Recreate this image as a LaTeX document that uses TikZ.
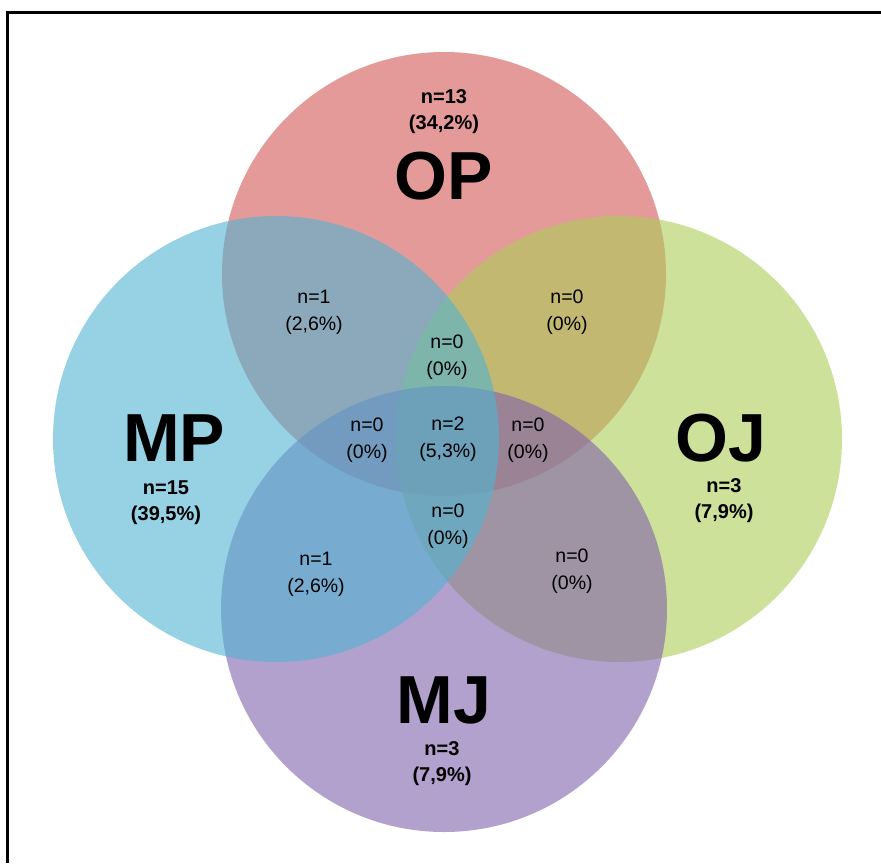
\documentclass[tikz,border=0pt]{standalone}
\usepackage{fontspec}
\setmainfont{Liberation Sans}
\definecolor{opc}{RGB}{212,88,88}
\definecolor{mpc}{RGB}{80,180,210}
\definecolor{ojc}{RGB}{172,205,88}
\definecolor{mjc}{RGB}{127,97,172}
\begin{document}
\begin{tikzpicture}[x=1pt,y=-1pt,
  setfill/.style={fill opacity=0.6, draw=none},
  bigname/.style={font=\fontsize{68}{70}\selectfont\bfseries, inner sep=0pt},
  outerlbl/.style={font=\fontsize{20}{26}\selectfont\bfseries, align=center, inner sep=0pt},
  innerlbl/.style={font=\fontsize{19.5}{27}\selectfont, align=center, inner sep=0pt}]
\useasboundingbox (0,0) rectangle (881,863);
\fill[white] (0,0) rectangle (881,863);
% frame
\draw[line width=3pt] (7,863) -- (7,12) -- (881,12);
% circles
\fill[setfill, opc] (444,274) circle (222pt);
\fill[setfill, ojc] (619,439) circle (223pt);
\fill[setfill, mjc] (444,609) circle (223pt);
\fill[setfill, mpc] (276,439) circle (223pt);
% set names
\node[bigname] (op) at (444,176) {OP};
\node[bigname] (mp) at (174,438) {MP};
\node[bigname] (oj) at (721,438) {OJ};
\node[bigname] (mj) at (444,700) {MJ};
% outer counts
\node[outerlbl] (opn) at (444,112) {n=13\\(34,2\%)};
\node[outerlbl] (mpn) at (166,503) {n=15\\(39,5\%)};
\node[outerlbl] (ojn) at (724,501) {n=3\\(7,9\%)};
\node[outerlbl] (mjn) at (442,764) {n=3\\(7,9\%)};
% inner counts
\node[innerlbl] (opmp) at (314,312) {n=1\\(2,6\%)};
\node[innerlbl] (opoj) at (567,312) {n=0\\(0\%)};
\node[innerlbl] (toplens) at (447,357) {n=0\\(0\%)};
\node[innerlbl] (leftlens) at (367,440) {n=0\\(0\%)};
\node[innerlbl] (center) at (448,439) {n=2\\(5,3\%)};
\node[innerlbl] (rightlens) at (528,440) {n=0\\(0\%)};
\node[innerlbl] (botlens) at (448,526) {n=0\\(0\%)};
\node[innerlbl] (mjmp) at (316,574) {n=1\\(2,6\%)};
\node[innerlbl] (mjoj) at (572,571) {n=0\\(0\%)};
\end{tikzpicture}
\end{document}
